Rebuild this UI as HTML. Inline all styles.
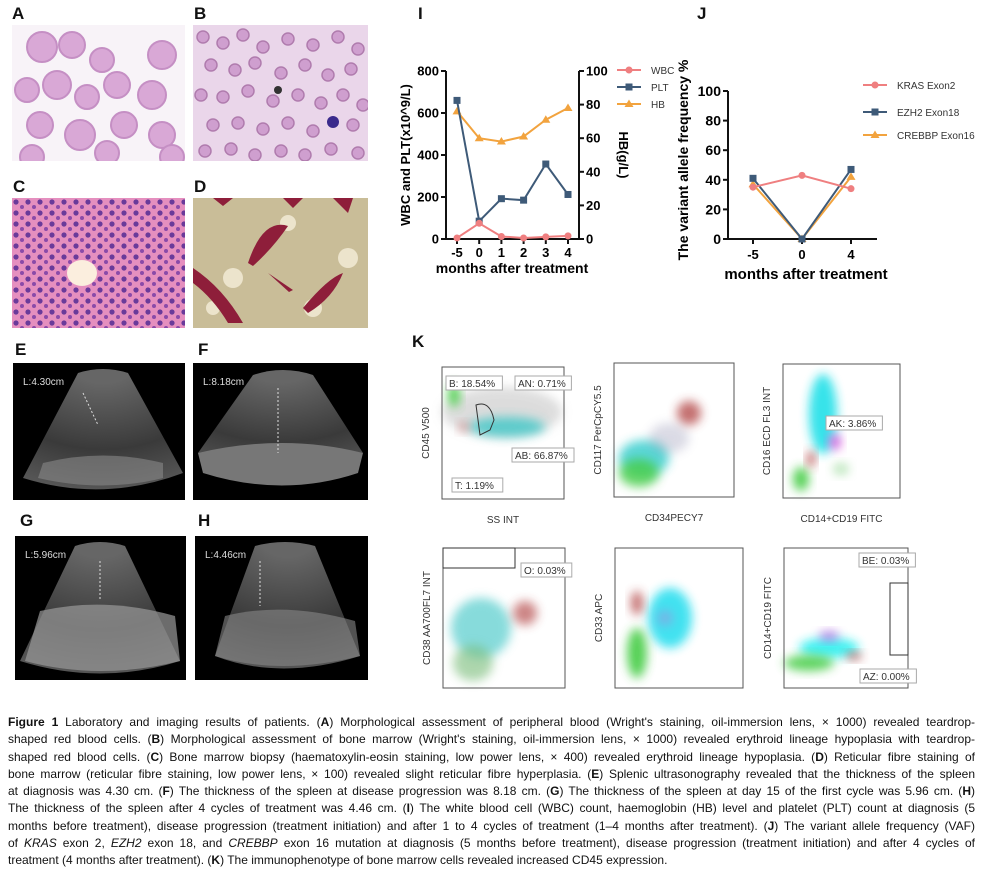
<!DOCTYPE html>
<html><head><meta charset="utf-8">
<style>
body{margin:0;background:#fff;}
#root{position:relative;width:985px;height:875px;overflow:hidden;font-family:"Liberation Sans",sans-serif;}
.lbl{position:absolute;font-weight:bold;font-size:17px;color:#111;}
.ph{position:absolute;overflow:hidden;}
.cap{position:absolute;left:8px;width:967px;font-size:12px;line-height:14px;color:#111;text-align:justify;text-align-last:justify;white-space:nowrap;}
.cap.last{text-align-last:left;}
</style></head><body>
<div id="root">
<div class="lbl" style="left:12px;top:4px">A</div>
<div class="lbl" style="left:194px;top:4px">B</div>
<div class="lbl" style="left:13px;top:177px">C</div>
<div class="lbl" style="left:194px;top:177px">D</div>
<div class="lbl" style="left:15px;top:340px">E</div>
<div class="lbl" style="left:198px;top:340px">F</div>
<div class="lbl" style="left:20px;top:511px">G</div>
<div class="lbl" style="left:198px;top:511px">H</div>
<div class="lbl" style="left:418px;top:4px">I</div>
<div class="lbl" style="left:697px;top:4px">J</div>
<div class="lbl" style="left:412px;top:332px">K</div>

<!-- A -->
<svg class="ph" style="left:12px;top:25px" width="173" height="136">
<rect width="173" height="136" fill="#f8f3f8"/>
<g fill="#d9a8d6" stroke="#c58fc4" stroke-width="2">
<circle cx="30" cy="22" r="15"/><circle cx="60" cy="20" r="13"/><circle cx="90" cy="35" r="12"/><circle cx="150" cy="30" r="14"/>
<circle cx="15" cy="65" r="12"/><circle cx="45" cy="60" r="14"/><circle cx="75" cy="72" r="12"/><circle cx="105" cy="60" r="13"/><circle cx="140" cy="70" r="14"/>
<circle cx="28" cy="100" r="13"/><circle cx="68" cy="110" r="15"/><circle cx="112" cy="100" r="13"/><circle cx="150" cy="110" r="13"/><circle cx="95" cy="128" r="12"/><circle cx="20" cy="132" r="12"/><circle cx="160" cy="132" r="12"/>
</g></svg>
<!-- B -->
<svg class="ph" style="left:193px;top:25px" width="175" height="136">
<rect width="175" height="136" fill="#ead6ea"/>
<g fill="#cf9fcf" stroke="#b07cae" stroke-width="1.5">
<circle cx="10" cy="12" r="6"/><circle cx="30" cy="18" r="6"/><circle cx="50" cy="10" r="6"/><circle cx="70" cy="22" r="6"/><circle cx="95" cy="14" r="6"/><circle cx="120" cy="20" r="6"/><circle cx="145" cy="12" r="6"/><circle cx="165" cy="24" r="6"/>
<circle cx="18" cy="40" r="6"/><circle cx="42" cy="45" r="6"/><circle cx="62" cy="38" r="6"/><circle cx="88" cy="48" r="6"/><circle cx="112" cy="40" r="6"/><circle cx="135" cy="50" r="6"/><circle cx="158" cy="44" r="6"/>
<circle cx="8" cy="70" r="6"/><circle cx="30" cy="72" r="6"/><circle cx="55" cy="66" r="6"/><circle cx="80" cy="76" r="6"/><circle cx="105" cy="70" r="6"/><circle cx="128" cy="78" r="6"/><circle cx="150" cy="70" r="6"/><circle cx="170" cy="80" r="6"/>
<circle cx="20" cy="100" r="6"/><circle cx="45" cy="98" r="6"/><circle cx="70" cy="104" r="6"/><circle cx="95" cy="98" r="6"/><circle cx="120" cy="106" r="6"/><circle cx="160" cy="100" r="6"/>
<circle cx="12" cy="126" r="6"/><circle cx="38" cy="124" r="6"/><circle cx="62" cy="130" r="6"/><circle cx="88" cy="126" r="6"/><circle cx="112" cy="130" r="6"/><circle cx="138" cy="124" r="6"/><circle cx="165" cy="128" r="6"/>
</g><circle cx="140" cy="97" r="6" fill="#3a2a8c"/><circle cx="85" cy="65" r="4" fill="#333"/></svg>
<!-- C -->
<svg class="ph" style="left:12px;top:198px" width="173" height="130">
<defs><pattern id="cells" width="12" height="11" patternUnits="userSpaceOnUse"><rect width="12" height="11" fill="#e58fbf"/><circle cx="4" cy="4" r="2.6" fill="#6a3a9a"/><circle cx="10" cy="9" r="2" fill="#8a4aa8"/></pattern></defs>
<rect width="173" height="130" fill="url(#cells)"/><ellipse cx="70" cy="75" rx="15" ry="13" fill="#fbeede"/></svg>
<!-- D -->
<svg class="ph" style="left:193px;top:198px" width="175" height="130">
<rect width="175" height="130" fill="#c9bd98"/>
<g fill="#ece4cc"><circle cx="95" cy="25" r="8"/><circle cx="40" cy="80" r="10"/><circle cx="120" cy="110" r="9"/><circle cx="155" cy="60" r="10"/><circle cx="20" cy="110" r="7"/></g>
<g fill="#8e1e3a"><path d="M55 65 Q70 20 95 28 Q80 50 60 68Z"/><path d="M0 70 Q30 90 50 125 L35 125 Q20 100 0 85Z"/><path d="M110 110 Q135 80 150 75 Q140 100 115 115Z"/><path d="M20 0 L40 0 L30 8Z"/><path d="M90 0 L110 0 L100 10Z"/><path d="M140 0 L160 0 L155 15Z"/><path d="M75 75 L100 92 L96 94Z"/></g></svg>
<!-- E-H ultrasound -->
<svg class="ph" style="left:13px;top:363px" width="172" height="137">
<defs><radialGradient id="us" cx="0.5" cy="-0.1" r="1.1"><stop offset="0.2" stop-color="#666"/><stop offset="0.7" stop-color="#3a3a3a"/><stop offset="1" stop-color="#555"/></radialGradient></defs>
<rect width="172" height="137" fill="#000"/><path d="M65 10 Q90 2 115 10 L170 110 Q90 140 10 115Z" fill="url(#us)"/>
<path d="M30 100 Q90 85 150 100 L150 115 Q90 130 25 115Z" fill="#888" opacity="0.6"/>
<text x="10" y="22" fill="#ddd" font-size="10" font-family="Liberation Sans">L:4.30cm</text>
<line x1="70" y1="30" x2="85" y2="62" stroke="#ddd" stroke-dasharray="2,2"/></svg>
<svg class="ph" style="left:193px;top:363px" width="175" height="137">
<rect width="175" height="137" fill="#000"/><path d="M60 12 Q90 2 120 12 L170 90 Q90 140 5 90Z" fill="url(#us)"/>
<path d="M5 90 Q90 70 170 90 L165 110 Q90 135 10 110Z" fill="#777"/>
<text x="10" y="22" fill="#ddd" font-size="10" font-family="Liberation Sans">L:8.18cm</text>
<line x1="85" y1="25" x2="85" y2="90" stroke="#ddd" stroke-dasharray="2,2"/></svg>
<svg class="ph" style="left:15px;top:536px" width="171" height="144">
<rect width="171" height="144" fill="#000"/><path d="M60 10 Q85 2 110 10 L165 125 Q85 150 5 125Z" fill="url(#us)"/>
<path d="M25 75 Q90 60 160 80 L165 125 Q85 145 10 125Z" fill="#9a9a9a" opacity="0.7"/>
<text x="10" y="22" fill="#ddd" font-size="10" font-family="Liberation Sans">L:5.96cm</text>
<line x1="85" y1="25" x2="85" y2="65" stroke="#ddd" stroke-dasharray="2,2"/></svg>
<svg class="ph" style="left:195px;top:536px" width="173" height="144">
<rect width="173" height="144" fill="#000"/><path d="M60 10 Q90 2 120 10 L165 120 Q85 145 20 120Z" fill="url(#us)"/>
<path d="M30 80 Q90 65 160 85 L165 120 Q85 140 20 120Z" fill="#888" opacity="0.6"/>
<text x="10" y="22" fill="#ddd" font-size="10" font-family="Liberation Sans">L:4.46cm</text>
<line x1="65" y1="25" x2="65" y2="70" stroke="#ddd" stroke-dasharray="2,2"/></svg>

<!-- Chart I -->
<svg id="chartI" style="position:absolute;left:0;top:0" width="985" height="300"></svg>
<!-- Flow cytometry -->
<svg id="flow" style="position:absolute;left:0;top:0" width="985" height="700">
<defs><filter id="bl" x="-50%" y="-50%" width="200%" height="200%"><feGaussianBlur stdDeviation="5"/></filter></defs>
</svg>

<div class="cap" style="top:715px"><b>Figure 1</b> Laboratory and imaging results of patients. (<b>A</b>) Morphological assessment of peripheral blood (Wright's staining, oil-immersion lens, × 1000) revealed teardrop-</div>
<div class="cap" style="top:732px">shaped red blood cells. (<b>B</b>) Morphological assessment of bone marrow (Wright's staining, oil-immersion lens, × 1000) revealed erythroid lineage hypoplasia with teardrop-</div>
<div class="cap" style="top:750px">shaped red blood cells. (<b>C</b>) Bone marrow biopsy (haematoxylin-eosin staining, low power lens, × 400) revealed erythroid lineage hypoplasia. (<b>D</b>) Reticular fibre staining of</div>
<div class="cap" style="top:767px">bone marrow (reticular fibre staining, low power lens, × 100) revealed slight reticular fibre hyperplasia. (<b>E</b>) Splenic ultrasonography revealed that the thickness of the spleen</div>
<div class="cap" style="top:784px">at diagnosis was 4.30 cm. (<b>F</b>) The thickness of the spleen at disease progression was 8.18 cm. (<b>G</b>) The thickness of the spleen at day 15 of the first cycle was 5.96 cm. (<b>H</b>)</div>
<div class="cap" style="top:801px">The thickness of the spleen after 4 cycles of treatment was 4.46 cm. (<b>I</b>) The white blood cell (WBC) count, haemoglobin (HB) level and platelet (PLT) count at diagnosis (5</div>
<div class="cap" style="top:819px">months before treatment), disease progression (treatment initiation) and after 1 to 4 cycles of treatment (1–4 months after treatment). (<b>J</b>) The variant allele frequency (VAF)</div>
<div class="cap" style="top:836px">of <i>KRAS</i> exon 2, <i>EZH2</i> exon 18, and <i>CREBBP</i> exon 16 mutation at diagnosis (5 months before treatment), disease progression (treatment initiation) and after 4 cycles of</div>
<div class="cap last" style="top:853px">treatment (4 months after treatment). (<b>K</b>) The immunophenotype of bone marrow cells revealed increased CD45 expression.</div>
</div>
<script>
const NS='http://www.w3.org/2000/svg';
// Chart I data
const iCategories=['-5','0','1','2','3','4'];
const wbcValues=[5,75,12,5,10,15];
const pltValues=[660,85,192,185,357,212];
const hbValues=[76,60,58,61,71,78];
const iLeftTicks=[0,200,400,600,800];
const iRightTicks=[0,20,40,60,80,100];
// Chart J data
const jCategories=['-5','0','4'];
const krasValues=[35,43,34];
const ezh2Values=[41,0,47];
const crebbpValues=[37,0,42];
const jTicks=[0,20,40,60,80,100];

function mk(p,tag,attrs){const e=document.createElementNS(NS,tag);for(const k in attrs)e.setAttribute(k,attrs[k]);p.appendChild(e);return e;}
function txt(p,x,y,s,attrs){const e=mk(p,'text',Object.assign({x:x,y:y,'font-family':'Liberation Sans, sans-serif'},attrs));e.textContent=s;return e;}
const svg=document.getElementById('chartI');
const C_WBC='#ef7f80',C_PLT='#3e5a78',C_HB='#f2a33e';
function marker(g,type,x,y,c){
 let m;
 if(type==='c')m=mk(g,'circle',{cx:x,cy:y,r:3.5,fill:c});
 else if(type==='s')m=mk(g,'rect',{x:x-3.5,y:y-3.5,width:7,height:7,fill:c});
 else m=mk(g,'path',{d:`M${x} ${y-4.5}L${x+4.5} ${y+3}L${x-4.5} ${y+3}Z`,fill:c});
 return m;
}
// ----- Chart I -----
const iX0=446,iX1=579,iY0=239,iY1=71;
const ixPos=i=>457+i*(568-457)/(iCategories.length-1);
const yL=v=>iY0-(v/800)*(iY0-iY1);
const yR=v=>iY0-(v/100)*(iY0-iY1);
const gI=mk(svg,'g',{});


mk(gI,'line',{x1:iX0,y1:iY1,x2:iX0,y2:iY0,stroke:'#111','stroke-width':2});
mk(gI,'line',{x1:iX1,y1:iY1,x2:iX1,y2:iY0,stroke:'#111','stroke-width':2});
mk(gI,'line',{x1:iX0,y1:iY0,x2:iX1,y2:iY0,stroke:'#111','stroke-width':2});
iLeftTicks.forEach(v=>{mk(gI,'line',{x1:iX0-5,y1:yL(v),x2:iX0,y2:yL(v),stroke:'#111','stroke-width':2});
 const t=txt(gI,iX0-7,yL(v)+4.5,String(v),{'font-size':13,'font-weight':'bold','text-anchor':'end'});
 });
iRightTicks.forEach(v=>{mk(gI,'line',{x1:iX1,y1:yR(v),x2:iX1+5,y2:yR(v),stroke:'#111','stroke-width':2});
 const t=txt(gI,iX1+7,yR(v)+4.5,String(v),{'font-size':13,'font-weight':'bold'});
 });
iCategories.forEach((c,i)=>{mk(gI,'line',{x1:ixPos(i),y1:iY0,x2:ixPos(i),y2:iY0+5,stroke:'#111','stroke-width':2});
 const t=txt(gI,ixPos(i),iY0+18,c,{'font-size':13,'font-weight':'bold','text-anchor':'middle'});
 });
let t=txt(gI,512,273,'months after treatment',{'font-size':14,'font-weight':'bold','text-anchor':'middle'});

t=txt(gI,0,0,'WBC and PLT(x10^9/L)',{'font-size':13,'font-weight':'bold','text-anchor':'middle',transform:'translate(410,155) rotate(-90)'});

t=txt(gI,0,0,'HB(g/L)',{'font-size':13,'font-weight':'bold','text-anchor':'middle',transform:'translate(619,155) rotate(90)'});

function series(g,vals,xf,yf,c,type,name){
 const pts=vals.map((v,i)=>xf(i)+','+yf(v)).join(' ');
 const pl=mk(g,'polyline',{points:pts,fill:'none',stroke:c,'stroke-width':2});
 
 vals.forEach((v,i)=>{const m=marker(g,type,xf(i),yf(v),c);
  });
}
series(gI,hbValues,ixPos,yR,C_HB,'t','hb');
series(gI,pltValues,ixPos,yL,C_PLT,'s','plt');
series(gI,wbcValues,ixPos,yL,C_WBC,'c','wbc');
function legend(g,x,y,c,type,label,name){
 mk(g,'line',{x1:x,y1:y,x2:x+24,y2:y,stroke:c,'stroke-width':2});
 marker(g,type,x+12,y,c);
 const tt=txt(g,x+34,y+4,label,{'font-size':10,fill:'#333'});
 
}
legend(gI,617,70,C_WBC,'c','WBC','legend-wbc');
legend(gI,617,87,C_PLT,'s','PLT','legend-plt');
legend(gI,617,104,C_HB,'t','HB','legend-hb');
// ----- Chart J -----
const jX0=728,jX1=877,jY0=239,jY1=91;
const jxPos=i=>753+i*49;
const yJ=v=>jY0-(v/100)*(jY0-jY1);
const gJ=mk(svg,'g',{});


mk(gJ,'line',{x1:jX0,y1:jY1,x2:jX0,y2:jY0,stroke:'#111','stroke-width':2});
mk(gJ,'line',{x1:jX0,y1:jY0,x2:jX1,y2:jY0,stroke:'#111','stroke-width':2});
jTicks.forEach(v=>{mk(gJ,'line',{x1:jX0-5,y1:yJ(v),x2:jX0,y2:yJ(v),stroke:'#111','stroke-width':2});
 const tt=txt(gJ,jX0-7,yJ(v)+5,String(v),{'font-size':14,'font-weight':'bold','text-anchor':'end'});
 });
jCategories.forEach((c,i)=>{mk(gJ,'line',{x1:jxPos(i),y1:jY0,x2:jxPos(i),y2:jY0+5,stroke:'#111','stroke-width':2});
 const tt=txt(gJ,jxPos(i),jY0+20,c,{'font-size':13,'font-weight':'bold','text-anchor':'middle'});
 });
t=txt(gJ,806,279,'months after treatment',{'font-size':15,'font-weight':'bold','text-anchor':'middle'});

t=txt(gJ,0,0,'The variant allele frequency %',{'font-size':14,'font-weight':'bold','text-anchor':'middle',transform:'translate(688,160) rotate(-90)'});

series(gJ,crebbpValues,jxPos,yJ,C_HB,'t','crebbp');
series(gJ,ezh2Values,jxPos,yJ,C_PLT,'s','ezh2');
series(gJ,krasValues,jxPos,yJ,C_WBC,'c','kras');
legend(gJ,863,85,C_WBC,'c','KRAS Exon2','legend-kras');
legend(gJ,863,112,C_PLT,'s','EZH2 Exon18','legend-ezh2');
legend(gJ,863,135,C_HB,'t','CREBBP Exon16','legend-crebbp');
// ----- Flow panels (decorative) -----
const fl=document.getElementById('flow');
const panels=[
 {x:442,y:367,w:122,h:132,xl:'SS INT',yl:'CD45 V500',blobs:[['#bbb',60,45,60,25,.5],['#3cc7c7',65,60,38,10,.8],['#44cc44',12,28,6,12,.9],['#c66',22,60,5,5,.6]]},
 {x:614,y:363,w:120,h:134,xl:'CD34PECY7',yl:'CD117 PerCpCY5.5',blobs:[['#33cccc',30,95,25,18,.8],['#44cc44',25,110,20,14,.8],['#a33',75,50,12,12,.7],['#88a',55,75,20,15,.3]]},
 {x:783,y:364,w:117,h:134,xl:'CD14+CD19 FITC',yl:'CD16 ECD FL3 INT',blobs:[['#22e0e8',40,50,14,40,.9],['#44cc44',18,115,8,12,.9],['#a33',28,95,4,8,.8],['#7c7',58,105,8,6,.5],['#d5d',52,78,6,8,.9]]},
 {x:443,y:548,w:122,h:140,xl:'CD34PECY7',yl:'CD38 AA700FL7 INT',blobs:[['#5cc',38,80,30,30,.7],['#7b7',30,115,20,18,.6],['#a33',82,65,12,12,.6]]},
 {x:615,y:548,w:128,h:140,xl:'CD15 PB',yl:'CD33 APC',blobs:[['#2de',55,70,22,30,.85],['#44cc44',22,105,10,25,.9],['#a33',22,55,6,12,.7],['#a8d',50,70,8,8,.5]]},
 {x:784,y:548,w:124,h:140,xl:'CD38 AA700FL7 INT',yl:'CD14+CD19 FITC',blobs:[['#2ee',45,100,30,10,.85],['#44cc44',25,115,25,8,.85],['#a5d',45,88,10,5,.7],['#a33',70,108,8,4,.7]]}
];
panels.forEach((p,k)=>{
 const g=mk(fl,'g',{});
 
 
 p.blobs.forEach(b=>mk(g,'ellipse',{cx:p.x+b[1],cy:p.y+b[2],rx:b[3],ry:b[4],fill:b[0],opacity:b[5],filter:'url(#bl)'}));
 mk(g,'rect',{x:p.x,y:p.y,width:p.w,height:p.h,fill:'none',stroke:'#555','stroke-width':1});
 const a=txt(g,p.x+p.w/2,p.y+p.h+24,p.xl,{'font-size':10,'text-anchor':'middle',fill:'#333'});
 
 const b=txt(g,0,0,p.yl,{'font-size':10,'text-anchor':'middle',fill:'#333',transform:`translate(${p.x-13},${p.y+p.h/2}) rotate(-90)`});
 
});
function gate(x,y,s,name){mk(fl,'rect',{x:x,y:y,width:s.length*5.6+6,height:14,fill:'#fff',stroke:'#aaa'});
 const tt=txt(fl,x+3,y+11,s,{'font-size':10,fill:'#333'});}
gate(446,376,'B: 18.54%','gate-b');gate(515,376,'AN: 0.71%','gate-an');gate(512,448,'AB: 66.87%','gate-ab');gate(452,478,'T: 1.19%','gate-t');
gate(826,416,'AK: 3.86%','gate-ak');gate(521,563,'O: 0.03%','gate-o');gate(859,553,'BE: 0.03%','gate-be');gate(860,669,'AZ: 0.00%','gate-az');
mk(fl,'path',{d:'M476 405 Q490 400 494 420 L490 430 L480 435 Z',fill:'none',stroke:'#333'});
mk(fl,'rect',{x:443,y:548,width:72,height:20,fill:'none',stroke:'#333'});
mk(fl,'rect',{x:890,y:583,width:18,height:72,fill:'none',stroke:'#333'});
</script>
</body></html>
